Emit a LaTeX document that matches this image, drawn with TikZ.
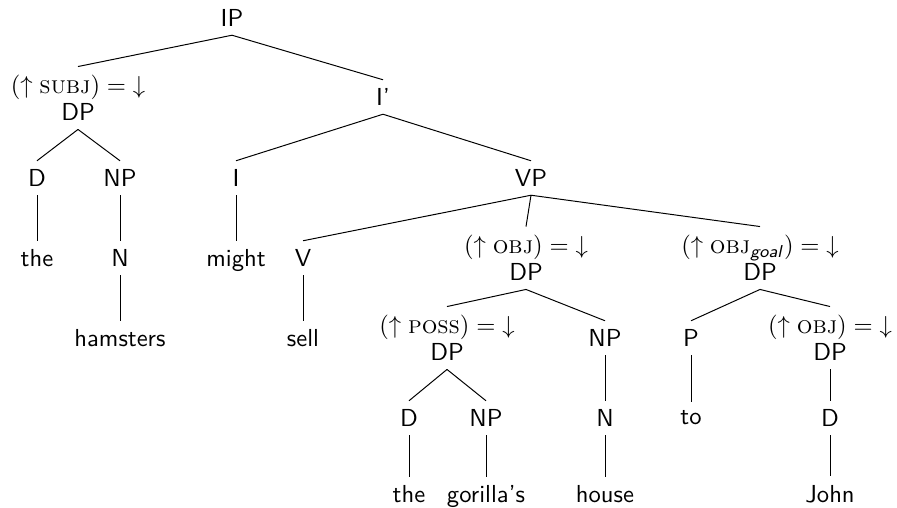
\documentclass[tikz,border=0pt]{standalone}
\usepackage{amsmath}
\usepackage{tikz}
\newcommand\gfun[1]{$({\uparrow}\;\textrm{\textsc{#1}}) = {\downarrow}$}

\begin{document}
\begin{tikzpicture} [x=0.142857mm, y=-0.142857mm, every node/.style={font=\sffamily, align=center}, flat/.style={text depth=0pt}]
\useasboundingbox (0,0) rectangle (897,508);
\node (ip) at (232,18) {IP};
\node (subj) at (78,98) {\gfun{subj}\\[-1pt]DP};
\node (ibar) at (383,97) {I'};
\node (d1) at (37,178) {D};
\node (np1) at (120,178) {NP};
\node (i) at (236,178) {I};
\node (vp) at (531,178) {VP};
\node (the1) at (37,258) {the};
\node (n1) at (120,258) {N};
\node[flat] (might) at (236,258) {might};
\node (v) at (303,258) {V};
\node (obj) at (526,258) {\gfun{obj}\\[-1pt]DP};
\node (goal) at (760,258) {\gfun{obj$_{\textsf{\textit{goal}}}$}\\[-1pt]DP};
\node (hamsters) at (120,338) {hamsters};
\node (sell) at (303,338) {sell};
\node (poss) at (447,338) {\gfun{poss}\\[-1pt]DP};
\node (np2) at (605,338) {NP};
\node (p) at (691,338) {P};
\node (objj) at (830,338) {\gfun{obj}\\[-1pt]DP};
\node (d2) at (409,418) {D};
\node (np3) at (486,418) {NP};
\node (n2) at (605,418) {N};
\node (to) at (691,418) {to};
\node (d3) at (830,418) {D};
\node (the2) at (409,494) {the};
\node[flat] (gorillas) at (486,494) {gorilla's};
\node (house) at (605,494) {house};
\node (john) at (830,494) {John};
\draw (ip.south) -- (subj.north);
\draw (ip.south) -- (ibar.north);
\draw (subj.south) -- (d1.north);
\draw (subj.south) -- (np1.north);
\draw (d1.south) -- (the1.north);
\draw (np1.south) -- (n1.north);
\draw (n1.south) -- (hamsters.north);
\draw (ibar.south) -- (i.north);
\draw (ibar.south) -- (vp.north);
\draw (i.south) -- (might.north);
\draw (vp.south) -- (v.north);
\draw (vp.south) -- (obj.north);
\draw (vp.south) -- (goal.north);
\draw (v.south) -- (sell.north);
\draw (obj.south) -- (poss.north);
\draw (obj.south) -- (np2.north);
\draw (poss.south) -- (d2.north);
\draw (poss.south) -- (np3.north);
\draw (d2.south) -- (the2.north);
\draw (np3.south) -- (gorillas.north);
\draw (np2.south) -- (n2.north);
\draw (n2.south) -- (house.north);
\draw (goal.south) -- (p.north);
\draw (goal.south) -- (objj.north);
\draw (p.south) -- (to.north);
\draw (objj.south) -- (d3.north);
\draw (d3.south) -- (john.north);
\end{tikzpicture}
\end{document}
